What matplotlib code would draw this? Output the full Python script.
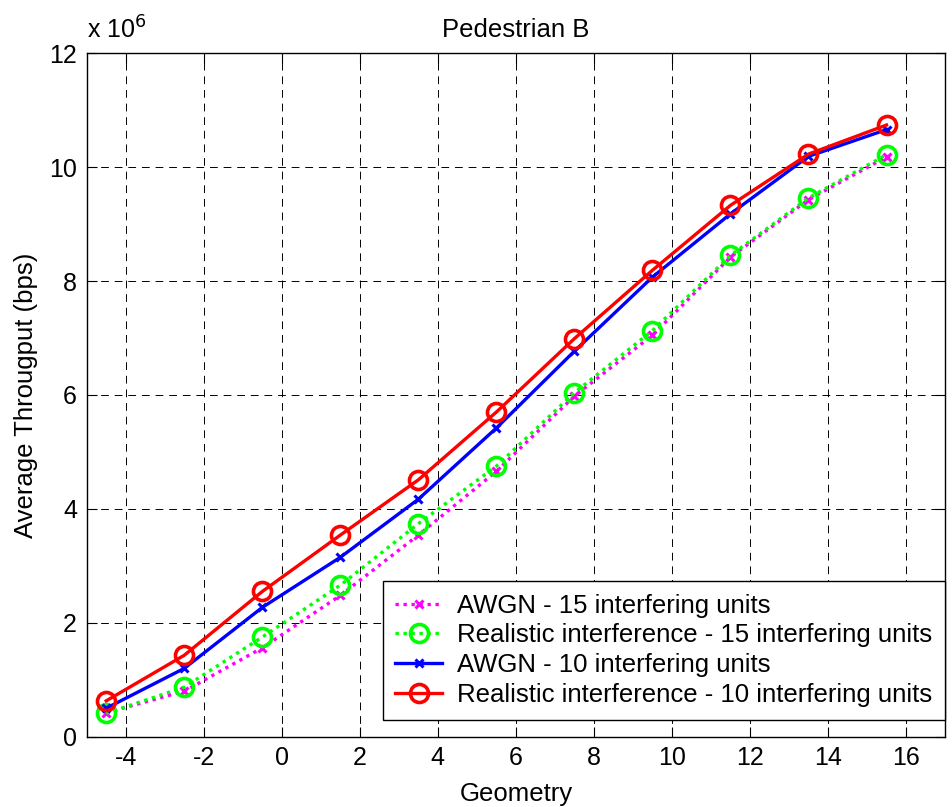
import matplotlib
matplotlib.use("Agg")
import matplotlib.pyplot as plt

plt.rcParams["font.family"] = ["Liberation Sans", "DejaVu Sans"]

# Geometry factor (dB) and average throughput (in units of 1e6 bps)
geometry = [-4.5, -2.5, -0.5, 1.5, 3.5, 5.5, 7.5, 9.5, 11.5, 13.5, 15.5]
awgn_15 = [0.42, 0.80, 1.56, 2.48, 3.54, 4.66, 5.98, 7.05, 8.42, 9.43, 10.18]
real_15 = [0.41, 0.87, 1.75, 2.66, 3.74, 4.75, 6.04, 7.13, 8.45, 9.46, 10.22]
awgn_10 = [0.50, 1.20, 2.27, 3.15, 4.17, 5.42, 6.77, 8.07, 9.18, 10.19, 10.66]
real_10 = [0.63, 1.43, 2.55, 3.54, 4.51, 5.70, 6.99, 8.19, 9.33, 10.23, 10.74]

labels = [
    "AWGN - 15 interfering units",
    "Realistic interference - 15 interfering units",
    "AWGN - 10 interfering units",
    "Realistic interference - 10 interfering units",
]
x_ticks = [-4, -2, 0, 2, 4, 6, 8, 10, 12, 14, 16]
y_ticks = [0, 2, 4, 6, 8, 10, 12]

fig = plt.figure(figsize=(9.52, 8.07), dpi=100)
ax = fig.add_axes([0.0911, 0.0871, 0.9016, 0.8469])

dot = (0, (1, 1.4))
ax.plot(geometry, awgn_15, color="#ff00ff", linestyle=dot, lw=2.4,
        marker="x", ms=6, mew=2.2, label=labels[0], zorder=3)
ax.plot(geometry, real_15, color="#00ff00", linestyle=dot, lw=2.4,
        marker="o", ms=13, mew=2.6, mfc="none", label=labels[1], zorder=3)
ax.plot(geometry, awgn_10, color="#0000ff", linestyle="-", lw=2.4,
        marker="x", ms=6, mew=2.2, label=labels[2], zorder=4)
ax.plot(geometry, real_10, color="#ff0000", linestyle="-", lw=2.4,
        marker="o", ms=13, mew=2.6, mfc="none", label=labels[3], zorder=5)

ax.set_xlim(-5, 17)
ax.set_ylim(0, 12)
ax.set_xticks(x_ticks)
ax.set_yticks(y_ticks)
ax.set_xticklabels([f"{t:g}" for t in x_ticks])
ax.set_yticklabels([f"{t:g}" for t in y_ticks])

ax.grid(True, color="k", linestyle=(0, (8, 6)), lw=0.7)
ax.tick_params(direction="in", length=7, width=0.8, top=True, right=True,
               labelsize=18, pad=7)
for s in ax.spines.values():
    s.set_linewidth(1.0)

ax.set_title("Pedestrian B", fontsize=18.5, pad=12)
ax.set_xlabel("Geometry", fontsize=18.5, labelpad=8)
ax.set_ylabel("Average Througput (bps)", fontsize=18.5, labelpad=8)
ax.text(0.0, 1.014, r"x 10$^{6}$", transform=ax.transAxes, fontsize=18,
        ha="left", va="bottom")

leg = ax.legend(loc="lower right", bbox_to_anchor=(1.0, 0.025),
                borderaxespad=0, fontsize=18.5, handlelength=1.8,
                handletextpad=0.6, labelspacing=0.22, borderpad=0.5,
                fancybox=False, framealpha=1, edgecolor="k")
leg.get_frame().set_linewidth(1.0)

fig.savefig("out.png", dpi=100)
